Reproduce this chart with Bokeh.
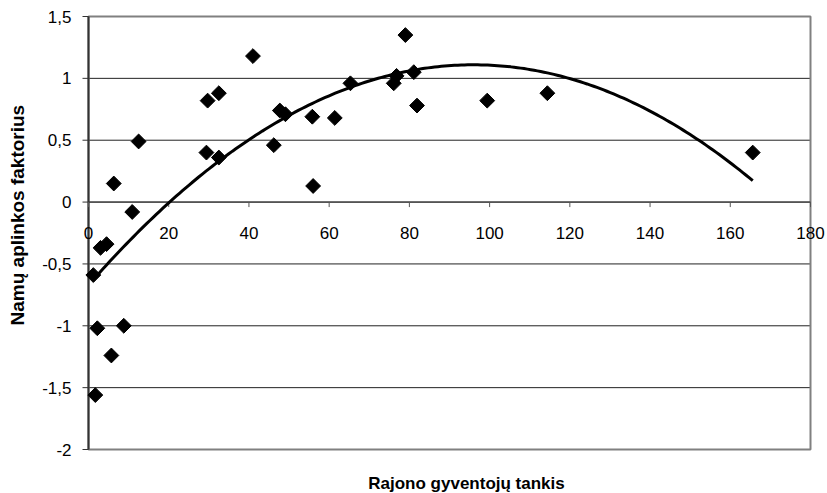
import math
import numpy as np
from bokeh.plotting import figure
from bokeh.models import Range1d, Label
from bokeh.core.properties import value
from bokeh.embed import file_html
from bokeh.resources import INLINE

# Data
density = [1.2, 2.2, 1.7, 3.0, 4.5, 5.7, 6.3, 8.8, 10.9, 12.5,
           29.4, 29.7, 32.5, 32.5, 41.0, 46.2, 47.7, 49.1, 55.8, 56.0,
           61.4, 65.3, 76.1, 76.8, 79.0, 81.1, 81.9, 99.4, 114.4, 165.6]
factor = [-0.59, -1.02, -1.56, -0.37, -0.34, -1.24, 0.15, -1.00, -0.08, 0.49,
          0.40, 0.82, 0.88, 0.36, 1.18, 0.46, 0.74, 0.71, 0.69, 0.13,
          0.68, 0.96, 0.96, 1.02, 1.35, 1.05, 0.78, 0.82, 0.88, 0.40]
trend_coef = [-1.933e-4, 0.03711, -0.6715]   # quadratic trend line (a, b, c)
x_ticks = [0, 20, 40, 60, 80, 100, 120, 140, 160, 180]
x_tick_labels = ["0", "20", "40", "60", "80", "100", "120", "140", "160", "180"]
y_ticks = [-2, -1.5, -1, -0.5, 0, 0.5, 1, 1.5]
y_tick_labels = ["-2", "-1,5", "-1", "-0,5", "0", "0,5", "1", "1,5"]
x_title = "Rajono gyventojų tankis"
y_title = "Namų aplinkos  faktorius"

# ---- layout (pixels) ----
W, H = 827, 493
BOX_L, BOX_R, BOX_T, BOX_B = 88, 810, 16, 449   # plot-area box inside canvas
FONT = "Liberation Sans"

x0, x1 = x_ticks[0], x_ticks[-1]
y0, y1 = y_ticks[0], y_ticks[-1]
ux = (x1 - x0) / (BOX_R - BOX_L)     # data units per pixel
uy = (y1 - y0) / (BOX_B - BOX_T)

p = figure(width=W, height=H, output_backend="svg", toolbar_location=None,
           x_range=Range1d(x0 - BOX_L * ux, x1 + (W - BOX_R) * ux),
           y_range=Range1d(y0 - (H - BOX_B) * uy, y1 + BOX_T * uy),
           min_border=0)
p.axis.visible = False
p.grid.visible = False
p.outline_line_color = None
p.background_fill_color = "white"
p.border_fill_color = "white"

# horizontal grid lines
p.segment(x0=[x0] * len(y_ticks), x1=[x1] * len(y_ticks), y0=y_ticks, y1=y_ticks,
          line_color="#222222", line_width=1)

# plot-area border
p.quad(left=[x0], right=[x1], bottom=[y0], top=[y1], fill_alpha=0,
       line_color="#808080", line_width=2)

# y axis line and ticks (pointing out to the left)
p.segment(x0=[x0], x1=[x0], y0=[y0], y1=[y1], line_color="#333333", line_width=2)
p.segment(x0=[x0 - 6 * ux] * len(y_ticks), x1=[x0] * len(y_ticks),
          y0=y_ticks, y1=y_ticks, line_color="#333333", line_width=1)

# x axis line at zero and ticks (pointing down)
p.segment(x0=[x0], x1=[x1], y0=[0], y1=[0], line_color="#333333", line_width=1)
p.segment(x0=x_ticks, x1=x_ticks, y0=[0] * len(x_ticks),
          y1=[-5 * uy] * len(x_ticks), line_color="#555555", line_width=1)

# tick labels
p.text(x=x_ticks, y=[0] * len(x_ticks), text=x_tick_labels, y_offset=31,
       text_align="center", text_baseline="middle", text_font=value(FONT),
       text_font_size=value("17px"), text_color="black")
p.text(x=[x0] * len(y_ticks), y=y_ticks, text=y_tick_labels, x_offset=-17,
       text_align="right", text_baseline="middle", text_font=value(FONT),
       text_font_size=value("17px"), text_color="black")

# trend line
xs = np.linspace(min(density), max(density), 200)
ys = np.polyval(trend_coef, xs)
p.line(xs, ys, line_color="black", line_width=3)

# points
p.scatter(density, factor, marker="square", size=10.5, angle=math.pi / 4,
          color="black")

# axis titles (screen units from the bottom-left of the canvas)
p.add_layout(Label(x=17, y=H - 212, x_units="screen", y_units="screen",
                   text=y_title, angle=math.pi / 2, text_align="center",
                   text_baseline="middle", text_font=FONT,
                   text_font_size="19px", text_font_style="bold",
                   text_color="black"))
p.add_layout(Label(x=466, y=H - 483, x_units="screen", y_units="screen",
                   text=x_title, text_align="center", text_baseline="middle",
                   text_font=FONT, text_font_size="17px",
                   text_font_style="bold", text_color="black"))

open("out.html", "w").write(file_html(p, INLINE))
